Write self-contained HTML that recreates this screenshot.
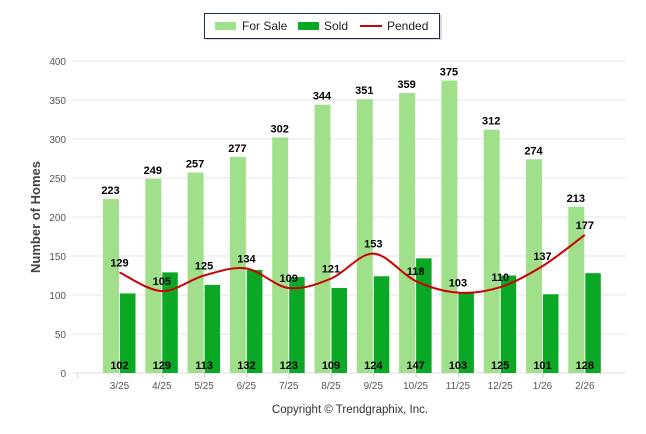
<!DOCTYPE html>
<html><head><meta charset="utf-8"><style>
body{margin:0;background:#fff;width:646px;height:434px;overflow:hidden;font-family:"Liberation Sans",sans-serif}
</style></head><body>
<svg id="c" width="646" height="434" style="position:absolute;left:0;top:0">
<g>
<rect x="206" y="15" width="236" height="25" fill="#888" opacity="0.3"/>
<rect x="204.5" y="13.5" width="235" height="25" fill="#fff" stroke="#1f2d4f" stroke-width="1"/>
<rect x="215" y="22" width="21" height="8" fill="#a0e08a"/>
<text x="242" y="30" font-size="12" fill="#222">For Sale</text>
<rect x="298" y="22" width="21" height="8" fill="#0aa825"/>
<text x="324" y="30" font-size="12" fill="#222">Sold</text>
<line x1="360" y1="26" x2="382" y2="26" stroke="#cc0000" stroke-width="2"/>
<text x="387" y="30" font-size="12" fill="#222">Pended</text>
</g>
<text transform="translate(40,217) rotate(-90)" text-anchor="middle" font-size="13" font-weight="bold" fill="#444">Number of Homes</text>
<text x="350" y="413" text-anchor="middle" font-size="11.5" fill="#333">Copyright © Trendgraphix, Inc.</text>
<g id="grid"></g><g id="bars"></g><g id="line"></g><g id="labels"></g>
</svg>
<script>
const categories=["3/25","4/25","5/25","6/25","7/25","8/25","9/25","10/25","11/25","12/25","1/26","2/26"];
const forSale=[223,249,257,277,302,344,351,359,375,312,274,213];
const sold=[102,129,113,132,123,109,124,147,103,125,101,128];
const pended=[129,105,125,134,109,121,153,118,103,110,137,177];
const yTicks=[0,50,100,150,200,250,300,350,400];
const NS="http://www.w3.org/2000/svg";
const y=v=>373-v*0.78;
const x=i=>119.5+i*42.3;
function mk(t,a,p){const e=document.createElementNS(NS,t);for(const k in a)e.setAttribute(k,a[k]);document.getElementById(p).appendChild(e);return e;}
yTicks.forEach(v=>{
 const l=mk('line',{x1:72,x2:626,y1:y(v),y2:y(v),stroke:v?'#e6e6e6':'#dcdcdc'},'grid');
 
 
 const t=mk('text',{x:66,y:y(v)+4,'text-anchor':'end','font-size':10,fill:'#555'},'grid');t.textContent=v;
 
 
});
categories.forEach((c,i)=>{
 const tk=mk('line',{x1:x(i)-42.3+0.5,x2:x(i)-42.3+0.5,y1:373,y2:378,stroke:'#ccc'},'grid');
 
 
 const t=mk('text',{x:x(i),y:389,'text-anchor':'middle','font-size':10,fill:'#555'},'grid');t.textContent=c;
 
 
 const b1=mk('rect',{x:x(i)-16.5,y:y(forSale[i]),width:16,height:373-y(forSale[i]),fill:'#a0e08a'},'bars');
 
 
 const b2=mk('rect',{x:x(i)+0.5,y:y(sold[i]),width:15.5,height:373-y(sold[i]),fill:'#0aa825'},'bars');
 
 
 const l1=mk('text',{x:x(i)-9,y:y(forSale[i])-5,'text-anchor':'middle','font-size':11,'font-weight':'bold'},'labels');l1.textContent=forSale[i];
 
 
 const l2=mk('text',{x:x(i),y:369,'text-anchor':'middle','font-size':11,'font-weight':'bold'},'labels');l2.textContent=sold[i];
 
 
 const l3=mk('text',{x:x(i),y:y(pended[i])-6,'text-anchor':'middle','font-size':11,'font-weight':'bold'},'labels');l3.textContent=pended[i];
 
 
});
const P=pended.map((v,i)=>[x(i),y(v)]);
let d='M'+P[0][0]+','+P[0][1];
for(let i=0;i<P.length-1;i++){
 const p0=P[Math.max(i-1,0)],p1=P[i],p2=P[i+1],p3=P[Math.min(i+2,P.length-1)];
 d+=' C'+(p1[0]+(p2[0]-p0[0])/6)+','+(p1[1]+(p2[1]-p0[1])/6)+' '+(p2[0]-(p3[0]-p1[0])/6)+','+(p2[1]-(p3[1]-p1[1])/6)+' '+p2[0]+','+p2[1];
}
const pl=mk('path',{d:d,fill:'none',stroke:'#cc0000','stroke-width':2},'line');


</script>
</body></html>
